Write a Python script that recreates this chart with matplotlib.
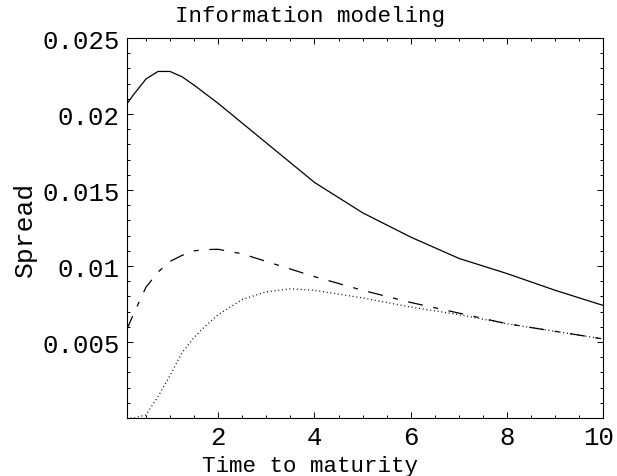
import matplotlib
matplotlib.use("Agg")
import matplotlib.pyplot as plt
import matplotlib.transforms as mtransforms
from matplotlib.ticker import MultipleLocator

# --- DATA ---
maturity = [0.1, 0.25, 0.5, 0.75, 1.0, 1.25, 1.5, 1.75, 2.0, 2.5, 3.0, 3.5,
            4.0, 5.0, 6.0, 7.0, 8.0, 9.0, 10.0]

spread_solid = [0.02065, 0.0213, 0.0223, 0.0228, 0.0228, 0.02245, 0.0219,
                0.0213, 0.0207, 0.0194, 0.0181, 0.0168, 0.0155, 0.0135,
                0.0119, 0.0105, 0.0095, 0.0084, 0.0074]

spread_dashdot = [0.0058, 0.0069, 0.0086, 0.0096, 0.0103, 0.0107, 0.0110,
                  0.01108, 0.0111, 0.0108, 0.0103, 0.0098, 0.0093, 0.0084,
                  0.0076, 0.0069, 0.0062, 0.0057, 0.0052]

spread_dotted = [0.0, 0.0, 0.0002, 0.0014, 0.0028, 0.0043, 0.0053, 0.0061,
                 0.0068, 0.0078, 0.0083, 0.0085, 0.0084, 0.0079, 0.0073,
                 0.0068, 0.0062, 0.0057, 0.0052]

x_ticks = [2, 4, 6, 8, 10]
y_ticks = [0.005, 0.01, 0.015, 0.02, 0.025]
y_tick_labels = ["0.005", "0.01", "0.015", "0.02", "0.025"]

# --- PLOT ---
plt.rcParams['font.family'] = ['Liberation Mono', 'DejaVu Sans Mono']

fig = plt.figure(figsize=(6.17, 4.77), dpi=100)
ax = fig.add_axes([0.2053, 0.1216, 0.7727, 0.7966])

ax.plot(maturity, spread_solid, color='black', lw=0.9, linestyle='-')
ax.plot(maturity, spread_dashdot, color='black', lw=0.9,
        linestyle=(0, (12, 8.5, 4, 8.5)))
ax.plot(maturity, spread_dotted, color='black', lw=0.9,
        linestyle=(0, (0.8, 2.2)))

ax.set_xlim(0.1, 10)
ax.set_ylim(0, 0.025)
ax.set_xticks(x_ticks)
ax.set_xticklabels([str(t) for t in x_ticks])
ax.set_yticks(y_ticks)
ax.set_yticklabels(y_tick_labels)
ax.xaxis.set_minor_locator(MultipleLocator(0.5))
ax.yaxis.set_minor_locator(MultipleLocator(0.001))

ax.tick_params(which='both', direction='in', top=True, right=True,
               labelsize=18.5, width=0.7, pad=5)
ax.tick_params(which='major', length=4)
ax.tick_params(which='minor', length=2)
for s in ax.spines.values():
    s.set_linewidth(0.8)

# nudge the "10" label a little so it stays inside the figure
last = ax.get_xticklabels()[-1]
last.set_transform(last.get_transform() +
                   mtransforms.ScaledTranslation(-5 / 100, 0, fig.dpi_scale_trans))

# title and x label sit centred on the figure, not on the frame
ax.set_title('Information modeling', fontsize=16.2, pad=12, x=0.384)
ax.set_xlabel('Time to maturity', fontsize=16.2, labelpad=4.5)
ax.xaxis.label.set_x(0.384)
ax.set_ylabel('Spread', fontsize=19, labelpad=4)

fig.savefig('out.png', dpi=100)
